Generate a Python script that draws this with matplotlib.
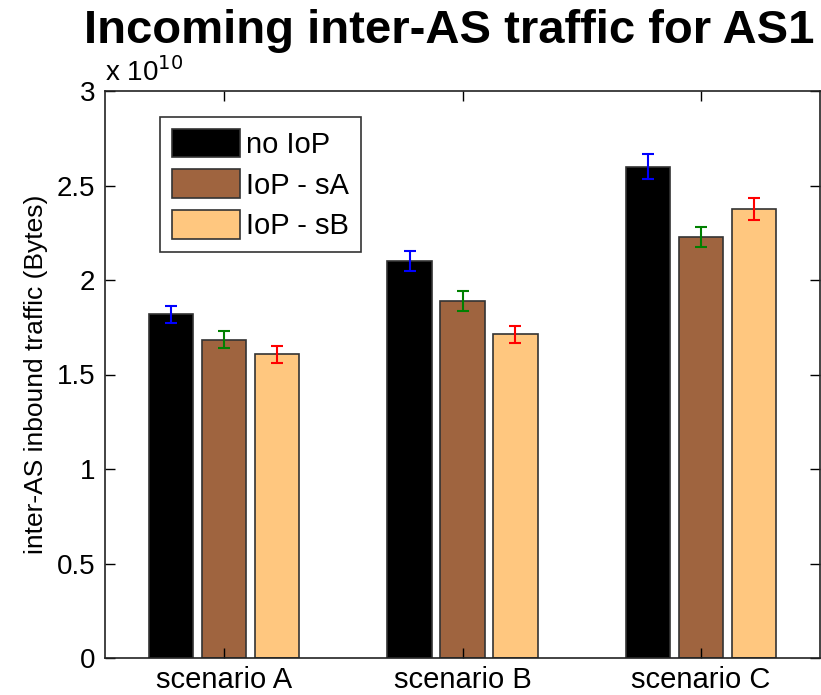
import numpy as np
import matplotlib.pyplot as plt

# values in units of 1e10 bytes
scenarios = ['scenario A', 'scenario B', 'scenario C']
series = ['no IoP', 'IoP - sA', 'IoP - sB']
no_iop = [1.82, 2.10, 2.60]
iop_sa = [1.685, 1.887, 2.23]
iop_sb = [1.606, 1.712, 2.375]
err_no_iop = [0.045, 0.052, 0.065]
err_iop_sa = [0.045, 0.053, 0.053]
err_iop_sb = [0.043, 0.043, 0.058]

# copper(3) like matlab
bar_colors = [(0, 0, 0), (0.625, 0.3906, 0.2487), (1.0, 0.7812, 0.4975)]
err_colors = ['#0000ff', '#008000', '#ff0000']

plt.rcParams['font.family'] = ['Liberation Sans', 'DejaVu Sans']

fig = plt.figure(figsize=(8.21, 6.95), dpi=100)
ax = fig.add_axes([105 / 821, 37 / 695, 715 / 821, 567 / 695])

x = np.arange(1, len(scenarios) + 1)
step = 0.2222
width = 0.185
data = [no_iop, iop_sa, iop_sb]
errs = [err_no_iop, err_iop_sa, err_iop_sb]
for i in range(3):
    pos = x + (i - 1) * step
    ax.bar(pos, data[i], width=width, color=bar_colors[i],
           edgecolor='#333333', linewidth=1.2, label=series[i])
    ax.errorbar(pos, data[i], yerr=errs[i], fmt='none', ecolor=err_colors[i],
                elinewidth=1.5, capsize=4.5, capthick=1.5)

ax.set_xlim(0.5, 3.5)
ax.set_ylim(0, 3)
ax.set_xticks(x)
ax.set_xticklabels(scenarios)
ax.set_yticks([0, 0.5, 1, 1.5, 2, 2.5, 3])
ax.set_yticklabels(['0', '0.5', '1', '1.5', '2', '2.5', '3'])
ax.tick_params(direction='in', length=7, width=1, labelsize=20,
               top=True, right=True, pad=7)
ax.tick_params(axis='x', labelsize=21, pad=6)
for s in ax.spines.values():
    s.set_linewidth(1.2)
    s.set_color('#222222')

ax.set_ylabel('inter-AS inbound traffic (Bytes)', fontsize=19, labelpad=6)
fig.text(105 / 821, 1 - 81 / 695, r'x 10$^{10}$', fontsize=20, ha='left', va='baseline')
fig.text(449 / 821, 1 - 43 / 695, 'Incoming inter-AS traffic for AS1', fontsize=34,
         fontweight='bold', ha='center', va='baseline')

leg = ax.legend(loc='upper left', bbox_to_anchor=(55 / 715, 1 - 26 / 567),
                fontsize=21, frameon=True, fancybox=False, edgecolor='black',
                handlelength=2.35, handleheight=1.13, handletextpad=0.2,
                borderpad=0.4, labelspacing=0.36, borderaxespad=0)
leg.get_frame().set_linewidth(1.2)

fig.savefig('out.png', dpi=100)
